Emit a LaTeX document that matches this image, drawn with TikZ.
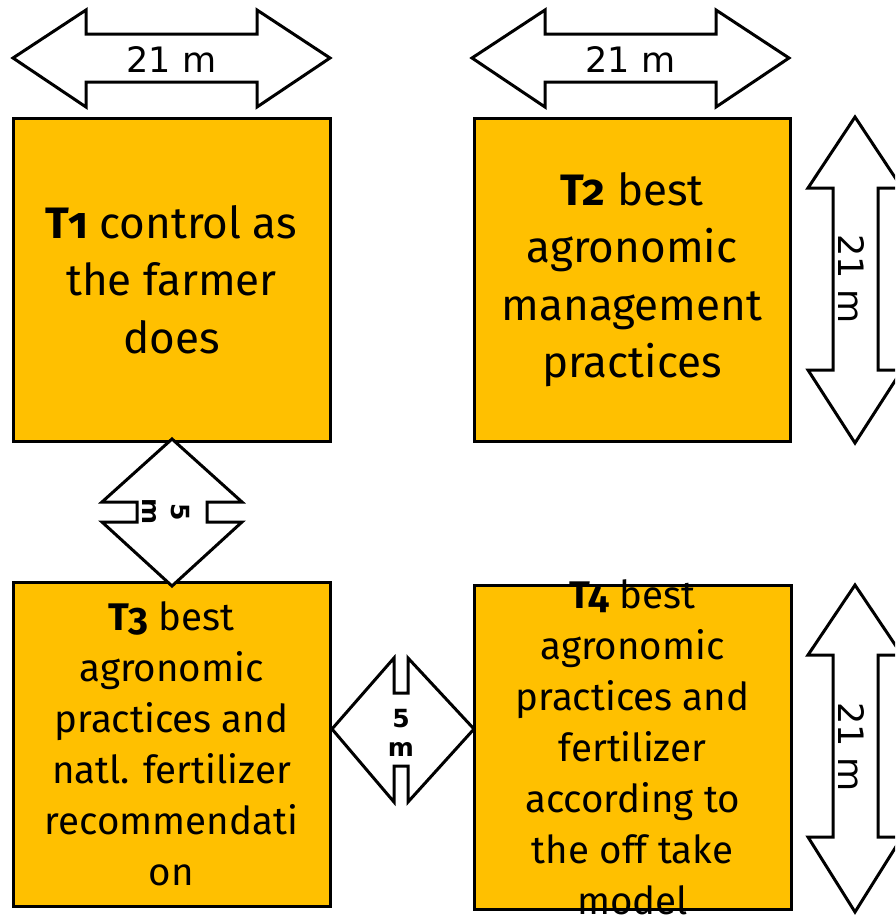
\documentclass[tikz,border=0pt]{standalone}
\usepackage{fontspec}
\setmainfont{Fira Sans}[Numbers=OldStyle]
\newfontfamily\dimfont{DejaVu Sans}
\definecolor{plotgold}{HTML}{FFC000}

\begin{document}
\begin{tikzpicture}[x=1pt,y=-1pt,
    plot/.style={draw=black, line width=3pt, fill=plotgold},
    plottext/.style={align=center, font=\fontsize{44}{57.5}\selectfont},
    smalltext/.style={align=center, font=\fontsize{38.5}{51}\selectfont},
    dimarrow/.style={draw=black, line width=3pt, fill=white, line join=miter},
    dimlabel/.style={font=\dimfont\fontsize{35}{35}\selectfont},
    gaplabel/.style={align=center, font=\dimfont\bfseries\fontsize{25}{29}\selectfont}]
    \useasboundingbox (0,0) rectangle (895,916);
    \clip (0,0) rectangle (895,916);
    % plots
    \draw[plot] (13,118) rectangle (330,441) node[pos=.5, plottext] (t1) {\textbf{T1} control as\\the farmer\\does};
    \draw[plot] (474,118) rectangle (790,441) node[pos=.5, plottext] (t2) {\textbf{T2} best\\agronomic\\management\\practices};
    \draw[plot] (13,582) rectangle (330,906) node[pos=.5, smalltext] (t3) {\textbf{T3} best\\agronomic\\practices and\\natl. fertilizer\\recommendati\\on};
    \draw[plot] (474,585) rectangle (791,909) node[pos=.5, smalltext] (t4) {\textbf{T4} best\\agronomic\\practices and\\fertilizer\\according to\\the off take\\model};
    % plot widths
    \draw[dimarrow] (13,58) -- (86,10) -- (86,34) -- (257,34) -- (257,10) -- (330,58) -- (257,107) -- (257,82) -- (86,82) -- (86,107) -- cycle;
    \node[dimlabel] (w1) at (171.5,60) {21 m};
    \draw[dimarrow] (472,58) -- (545,10) -- (545,34) -- (716,34) -- (716,10) -- (789,58) -- (716,107) -- (716,82) -- (545,82) -- (545,107) -- cycle;
    \node[dimlabel] (w2) at (630.5,60) {21 m};
    % plot lengths
    \draw[dimarrow] (855,117) -- (902,188) -- (878,188) -- (878,370) -- (902,370) -- (855,443) -- (808,370) -- (833,370) -- (833,188) -- (808,188) -- cycle;
    \node[dimlabel, rotate=-90] (l2) at (851,279) {21 m};
    \draw[dimarrow] (855,585) -- (902,655) -- (878,655) -- (878,837) -- (902,837) -- (855,912) -- (808,837) -- (833,837) -- (833,655) -- (808,655) -- cycle;
    \node[dimlabel, rotate=-90] (l4) at (851,747) {21 m};
    % gaps
    \draw[dimarrow] (172,439) -- (242,502) -- (207,502) -- (207,522) -- (242,522) -- (172,586) -- (102,522) -- (137,522) -- (137,502) -- (102,502) -- cycle;
    \node[gaplabel, rotate=-90] (g13) at (166,512) {5\\m};
    \draw[dimarrow] (332,729) -- (394,658) -- (394,693) -- (408,693) -- (408,658) -- (474,729) -- (408,802) -- (408,766) -- (394,766) -- (394,802) -- cycle;
    \node[gaplabel] (g34) at (401,733) {5\\m};
\end{tikzpicture}
\end{document}
